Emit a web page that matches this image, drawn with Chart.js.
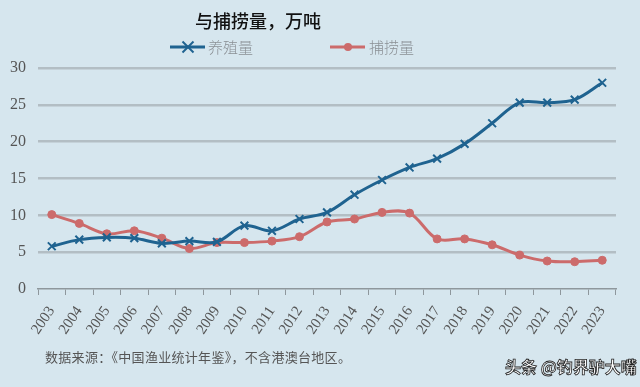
<!DOCTYPE html>
<html>
<head>
<meta charset="utf-8">
<script src="https://cdn.jsdelivr.net/npm/chart.js@4/dist/chart.umd.min.js"></script>
<style>
html,body{margin:0;padding:0;}
body{width:640px;height:387px;background:#d6e6ee;position:relative;overflow:hidden;font-family:"Noto Sans CJK SC",sans-serif;}
#wrap{position:absolute;left:0;top:0;width:640px;height:387px;}
.t{position:absolute;white-space:nowrap;}
#title{left:195px;top:7px;font-size:18px;color:#111;font-weight:500;}
.leg{position:absolute;top:38px;height:18px;}
.leg .txt{position:absolute;top:-2px;font-size:15px;color:#8a8f94;white-space:nowrap;font-weight:300;}
#foot{left:45px;top:347px;font-size:13px;color:#555;letter-spacing:0.3px;}
#wm{left:505px;top:354px;font-size:16px;color:#fff;font-weight:700;-webkit-text-stroke:0.8px #222;}
</style>
</head>
<body>
<div id="wrap"><canvas id="c" width="640" height="387"></canvas></div>
<div class="t" id="title">与捕捞量，万吨</div>
<div class="leg" style="left:170px;width:90px;">
  <svg width="36" height="18" style="position:absolute;left:0;top:0"><line x1="0" y1="9" x2="35" y2="9" stroke="#1f6390" stroke-width="3"/><line x1="12.5" y1="3.5" x2="23.5" y2="14.5" stroke="#1f6390" stroke-width="2"/><line x1="23.5" y1="3.5" x2="12.5" y2="14.5" stroke="#1f6390" stroke-width="2"/></svg>
  <span class="txt" style="left:38px">养殖量</span>
</div>
<div class="leg" style="left:330px;width:90px;">
  <svg width="36" height="18" style="position:absolute;left:0;top:0"><line x1="0" y1="9" x2="35" y2="9" stroke="#cc6b6b" stroke-width="3"/><circle cx="18" cy="9" r="4" fill="#cc6b6b"/></svg>
  <span class="txt" style="left:39px">捕捞量</span>
</div>
<div class="t" id="foot">数据来源：《中国渔业统计年鉴》，不含港澳台地区。</div>
<div class="t" id="wm">头条 @钓界驴大嘴</div>
<script>
const years = ["2003","2004","2005","2006","2007","2008","2009","2010","2011","2012","2013","2014","2015","2016","2017","2018","2019","2020","2021","2022","2023"];
const aquaculture = [5.8,6.7,7.0,6.9,6.2,6.5,6.4,8.6,7.9,9.5,10.4,12.8,14.8,16.5,17.7,19.7,22.5,25.3,25.3,25.7,28.0];
const capture = [10.1,8.9,7.5,7.9,6.9,5.5,6.3,6.3,6.5,7.1,9.1,9.5,10.4,10.3,6.8,6.8,6.0,4.6,3.8,3.7,3.9];
const yTicks = [0,5,10,15,20,25,30];

new Chart(document.getElementById('c'), {
  type: 'line',
  data: {
    labels: years,
    datasets: [
      {label:'养殖量', data: aquaculture, borderColor:'#1f6390', backgroundColor:'#1f6390', borderWidth:3,
       pointStyle:'crossRot', pointRadius:5.5, pointBorderWidth:2, pointHoverRadius:5.5, tension:0.35},
      {label:'捕捞量', data: capture, borderColor:'#cc6b6b', backgroundColor:'#cc6b6b', borderWidth:3,
       pointStyle:'circle', pointRadius:4, pointBorderWidth:1, pointHoverRadius:4, tension:0.35}
    ]
  },
  options: {
    responsive:false, animation:false, devicePixelRatio:1,
    layout:{padding:{top:68,right:24,bottom:0,left:0}},
    plugins:{legend:{display:false}, title:{display:false}, tooltip:{enabled:false}},
    scales:{
      x:{
        offset:true,
        afterFit: s => { s.height = 98; },
        grid:{display:true, drawOnChartArea:false, drawTicks:true, tickLength:6, color:'#8e979c', offset:true},
        border:{display:true, color:'#8e979c', width:1.5},
        ticks:{minRotation:56, maxRotation:56, color:'#555', font:{family:'"Liberation Serif", serif', size:15}, padding:8, autoSkip:false}
      },
      y:{
        min:0, max:30,
        afterFit: s => { s.width = 38; },
        afterBuildTicks: s => { s.ticks = yTicks.map(v => ({value:v})); },
        grid:{color: ctx => ctx.tick && ctx.tick.value === 0 ? 'rgba(0,0,0,0)' : '#b3bec4', lineWidth:2.5, drawTicks:false},
        border:{display:false},
        ticks:{color:'#555', font:{family:'"Liberation Serif", serif', size:16}, padding:12}
      }
    }
  }
});
</script>
</body>
</html>
